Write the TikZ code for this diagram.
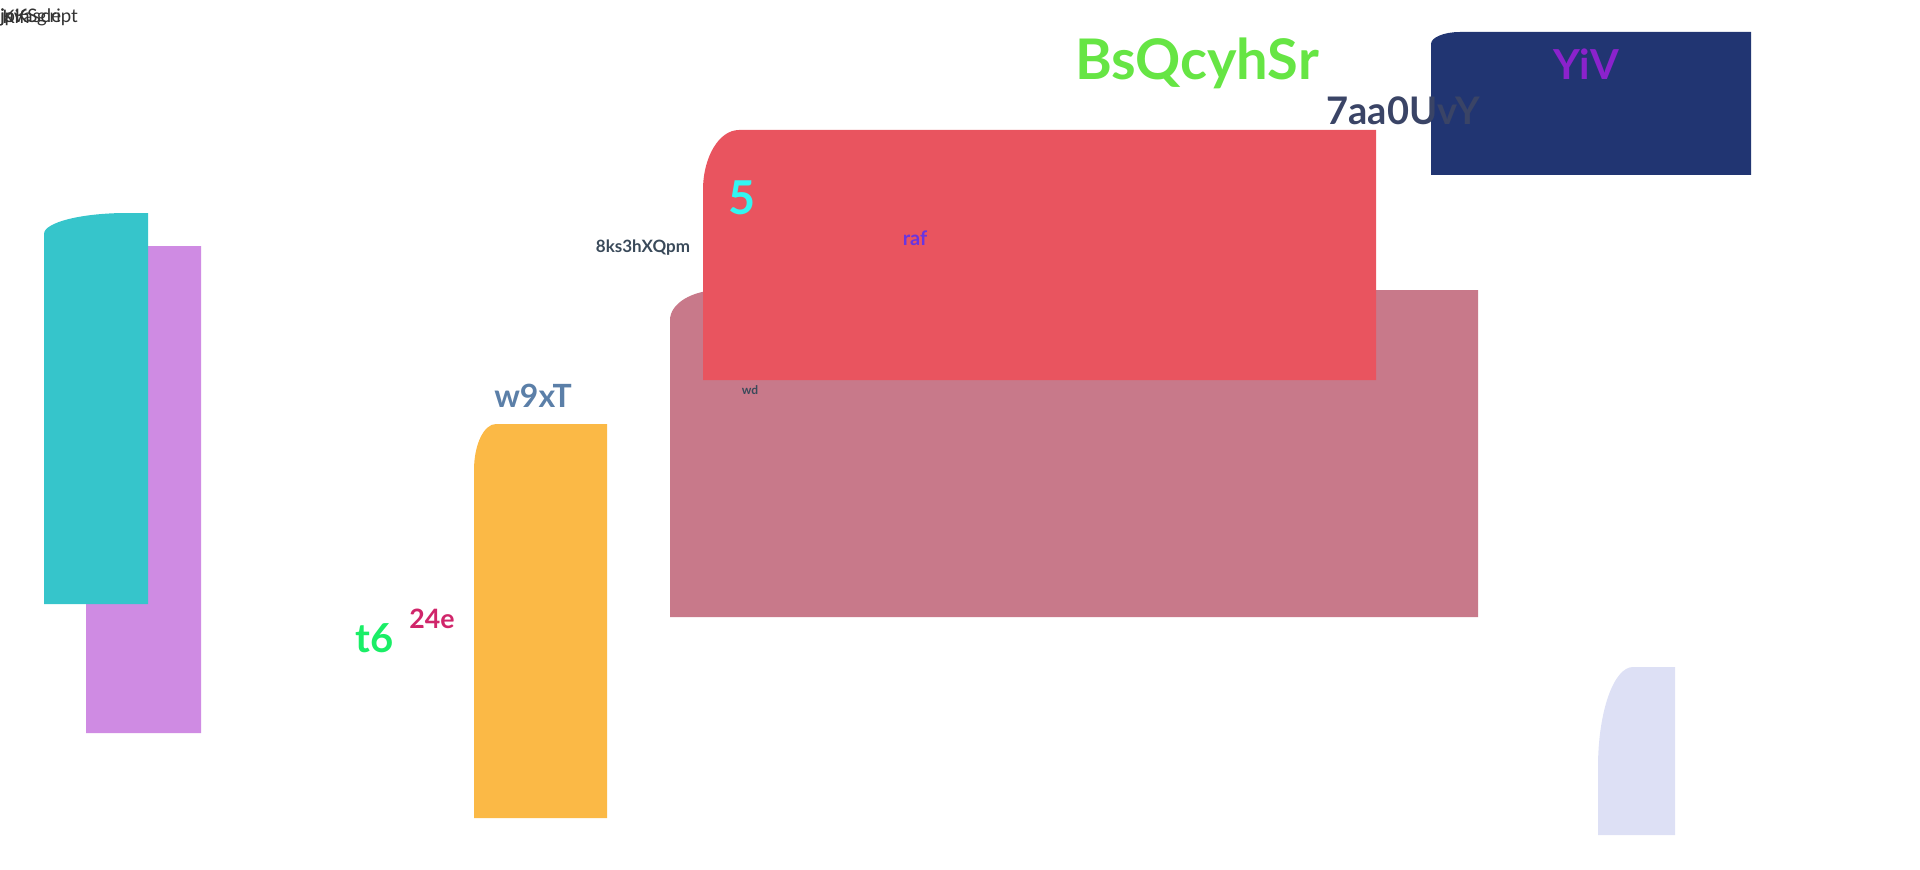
\documentclass[tikz,border=0pt]{standalone}
\usepackage{fontspec}
\setmainfont{Lato}
\usepackage{tikz}

\definecolor{tealbox}{HTML}{36C5CB}
\definecolor{orchidbox}{HTML}{CF8BE3}
\definecolor{orangebox}{HTML}{FBB946}
\definecolor{mauvebox}{HTML}{C8798A}
\definecolor{redbox}{HTML}{E9545F}
\definecolor{navybox}{HTML}{213572}
\definecolor{lavenderbox}{HTML}{DDE0F5}
\definecolor{greentxt}{HTML}{66E544}
\definecolor{slatetxt}{HTML}{3A4466}
\definecolor{purpletxt}{HTML}{8B22CC}
\definecolor{cyantxt}{HTML}{33F5F0}
\definecolor{raftxt}{HTML}{6A35E0}
\definecolor{graytxt}{HTML}{3A4A5A}
\definecolor{steeltxt}{HTML}{5B7FA8}
\definecolor{limetxt}{HTML}{1AEE66}
\definecolor{crimsontxt}{HTML}{D0256A}

% box with one rounded (elliptic) top-left corner: fill, x1, y1, x2, y2, rx, ry
\newcommand{\tabbox}[7]{%
  \fill[#1] ({#2},{#5}) -- ({#2},{#3+#7})
    .. controls ({#2},{#3+0.448*#7}) and ({#2+0.448*#6},{#3}) .. ({#2+#6},{#3})
    -- ({#4},{#3}) -- ({#4},{#5}) -- cycle;}

\tikzset{
  lbl/.style={inner sep=0pt, anchor=center, font=\bfseries},
  toptxt/.style={inner sep=0pt, anchor=west, text=black!80, font=\fontsize{14}{16}\selectfont}
}

\begin{document}
\begin{tikzpicture}[x=0.75pt, y=-0.75pt]
            \useasboundingbox (0,0) rectangle (1920,870);

            \tabbox{orchidbox}{86}{246}{201}{733}{0}{0}
            \tabbox{tealbox}{44}{213}{148}{604}{83}{21}
            \tabbox{orangebox}{474}{424}{607}{818}{22}{46}
            \tabbox{mauvebox}{670}{290}{1478}{617}{50}{30}
            \tabbox{redbox}{703}{130}{1376}{380}{36}{60}
            \tabbox{navybox}{1431}{32}{1751}{175}{29}{12}
            \tabbox{lavenderbox}{1598}{667}{1675}{835}{35}{100}

            \node[toptxt] (js) at (0,17) {javascript};
            \node[toptxt] (gl) at (0,17) {jpKSgle};
            \node[toptxt] (kf) at (2,17) {Kifi};

            \node[lbl, text=greentxt, font=\bfseries\fontsize{42}{48}\selectfont] (title) at (1197,63) {BsQcyhSr};
            \node[lbl, text=slatetxt, font=\bfseries\fontsize{28.5}{32}\selectfont] (sub) at (1403,111) {7aa0UvY};
            \node[lbl, text=purpletxt, font=\bfseries\fontsize{31}{36}\selectfont] (yiv) at (1586,64) {YiV};
            \node[lbl, text=cyantxt, font=\bfseries\fontsize{35}{40}\selectfont] (five) at (742,198) {5};
            \node[lbl, text=raftxt, font=\bfseries\fontsize{15}{18}\selectfont] (raf) at (915,238) {raf};
            \node[lbl, text=graytxt, font=\bfseries\fontsize{12.75}{15}\selectfont] (ks) at (643,248) {8ks3hXQpm};
            \node[lbl, text=graytxt, font=\bfseries\fontsize{9}{11}\selectfont] (wd) at (750,390) {wd};
            \node[lbl, text=steeltxt, font=\bfseries\fontsize{24}{28}\selectfont] (w9) at (533,396) {w9xT};
            \node[lbl, text=crimsontxt, font=\bfseries\fontsize{20}{24}\selectfont] (e24) at (432,619) {24e};
            \node[lbl, text=limetxt, font=\bfseries\fontsize{30}{34}\selectfont] (t6) at (375,638) {t6};
        \end{tikzpicture}
\end{document}
